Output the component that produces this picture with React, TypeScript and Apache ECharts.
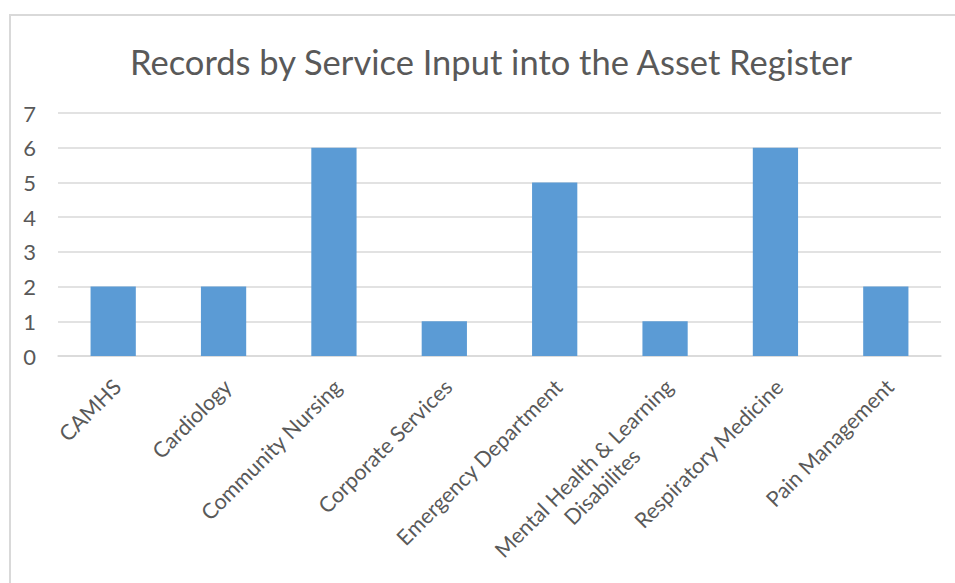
import React, { useEffect, useRef } from "react";
import * as echarts from "echarts";

const TITLE = "Records by Service Input into the Asset Register";
const categories = [
  "CAMHS",
  "Cardiology",
  "Community Nursing",
  "Corporate Services",
  "Emergency Department",
  "Mental Health & Learning\nDisabilites",
  "Respiratory Medicine",
  "Pain Management",
];
const records = [2, 2, 6, 1, 5, 1, 6, 2];
const yTicks = { min: 0, max: 7, interval: 1 };

const FONT = "Lato, 'Open Sans', sans-serif";
const TEXT = "#595959";
const GRID = "#d9d9d9";
const BAR = "#5B9BD5";

export default function App() {
  const ref = useRef<HTMLDivElement>(null);
  useEffect(() => {
    if (!ref.current) return;
    const chart = echarts.init(ref.current, undefined, { renderer: "svg" });
    const xData = categories.map((c) => {
      const multi = c.includes("\n");
      return {
        value: c,
        textStyle: { padding: [multi ? 37 : 11, 0, 0, 0] },
      };
    });
    chart.setOption({
      animation: false,
      backgroundColor: "#ffffff",
      graphic: [
        {
          type: "rect",
          z: -10,
          shape: { x: 10, y: 15, width: 1000, height: 1000 },
          style: { fill: "none", stroke: GRID, lineWidth: 2 },
          silent: true,
        },
        {
          type: "text",
          x: 491,
          y: 61,
          style: {
            text: TITLE,
            fill: TEXT,
            font: `34.5px ${FONT}`,
            textAlign: "center",
            textVerticalAlign: "middle",
          },
        },
      ],
      grid: {
        left: 58,
        right: 14,
        top: 113,
        bottom: 227,
        containLabel: false,
        outerBoundsMode: "none",
      },
      xAxis: {
        type: "category",
        data: xData,
        axisLine: { show: true, lineStyle: { color: GRID, width: 1.5 } },
        axisTick: { show: false },
        axisLabel: {
          interval: 0,
          rotate: 45,
          margin: 23,
          color: TEXT,
          fontFamily: FONT,
          fontSize: 21.5,
          lineHeight: 26,
          formatter: (v: string) =>
            v
              .split("\n")
              .map((line) => `{c|${line}}`)
              .join("\n"),
          rich: {
            c: {
              align: "center",
              color: TEXT,
              fontFamily: FONT,
              fontSize: 21.5,
              lineHeight: 26,
            },
          },
        },
      },
      yAxis: {
        type: "value",
        min: yTicks.min,
        max: yTicks.max,
        interval: yTicks.interval,
        axisLine: { show: false },
        axisTick: { show: false },
        axisLabel: {
          color: TEXT,
          fontFamily: FONT,
          fontSize: 22,
          margin: 22,
        },
        splitLine: { lineStyle: { color: GRID, width: 1.5 } },
      },
      series: [
        {
          type: "bar",
          data: records,
          barWidth: "41%",
          itemStyle: { color: BAR },
        },
      ],
    });
    return () => chart.dispose();
  }, []);
  return (
    <div
      ref={ref}
      style={{ position: "fixed", left: 0, top: 0, width: 955, height: 583 }}
    />
  );
}
